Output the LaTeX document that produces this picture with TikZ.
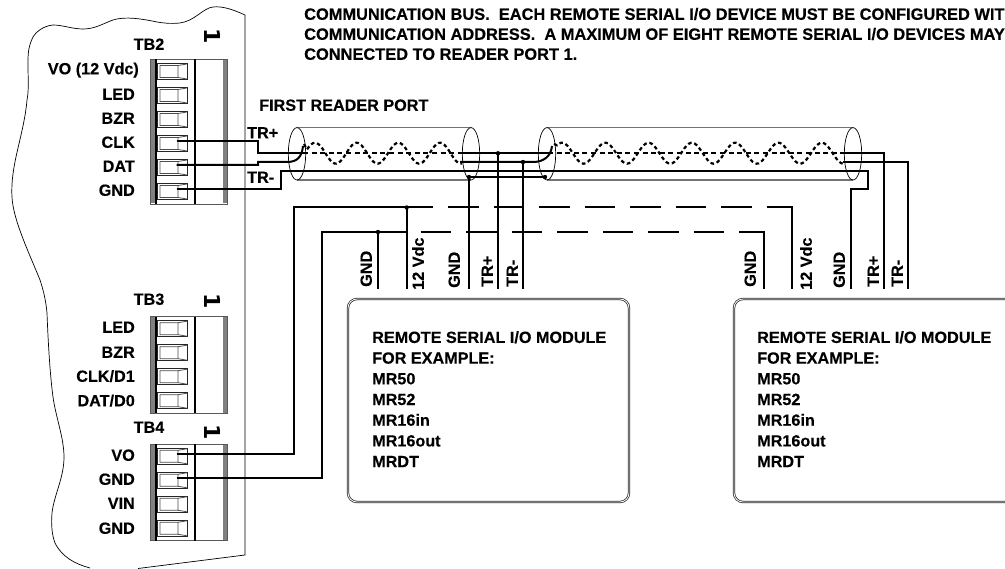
\documentclass[tikz,border=0pt]{standalone}
\usepackage{fontspec}
\setmainfont[BoldFeatures={FakeBold=0.35}]{Liberation Sans}
\newfontfamily\onefont{DejaVu Sans}
\begin{document}
\begin{tikzpicture}[x=1pt,y=-1pt,
 basefont/.style={font=\bfseries\fontsize{16.2}{20.7}\selectfont,inner sep=0pt},
 lab/.style={basefont,text height=11.6pt,text depth=0pt},
 plab/.style={lab,anchor=east},
 vlab/.style={lab,rotate=90,anchor=west},
 tlab/.style={lab,anchor=west},
 toplab/.style={tlab,font=\bfseries\fontsize{16.4}{20.7}\selectfont},
 onelab/.style={font=\onefont\bfseries\fontsize{22}{24}\selectfont,inner sep=0pt,rotate=-90},
 modtext/.style={basefont,align=left,anchor=north west},
 wire/.style={line width=2pt,line join=miter},
 dashA/.style={wire,dash pattern=on 30.5pt off 15pt},
 outline/.style={line width=0.7pt},
 shell/.style={line width=1.2pt,draw=black!55},
 twist/.style={line width=2.2pt,dash pattern=on 3.6pt off 2.8pt},
 straightdash/.style={line width=2.1pt,dash pattern=on 5pt off 3.6pt},
 mbox/.style={line width=0.75pt,draw=black!85,double,double distance=0.8pt,rounded corners=9pt}]
\useasboundingbox (0,0) rectangle (1005,569);
% board outline
\draw[outline] (245,15) .. controls (232,9) and (222,6) .. (213,7) .. controls (203,8) and (195,21) .. (180,23) .. controls (170,24) and (163,23) .. (157,22) .. controls (143,19) and (125,16) .. (113,20) .. controls (102,24) and (95,29) .. (83,29) .. controls (72,29) and (63,25) .. (53,25) .. controls (43,26) and (36,32) .. (33,37) .. controls (28,47) and (28,55) .. (28,63) .. controls (28,80) and (29,90) .. (27,100) .. controls (24,135) and (10,165) .. (12,197) .. controls (13,220) and (30,255) .. (40,280) .. controls (44,292) and (46,302) .. (47,313) .. controls (48,340) and (50,375) .. (53,397) .. controls (56,418) and (64,438) .. (64,457) .. controls (64,478) and (54,495) .. (52,513) .. controls (51,525) and (52,535) .. (55,543) .. controls (62,557) and (75,564) .. (90,568);
\draw[outline] (138,568.5) -- (245,555) -- (245,15);
% terminal blocks
\newcommand{\tblock}[2]{%
 \begin{scope}[shift={(0,#1)}]
  \pgfmathsetmacro{\hh}{24*#2+0.5}
  \draw[line width=0.9pt,draw=black!65] (150.5,0) rectangle (227,\hh);
  \fill[black!50] (151,0.5) rectangle (155,\hh-0.5);
  \fill[black!50] (223,0.5) rectangle (226.5,\hh-0.5);
  \draw[line width=1.2pt] (156,0)--(156,\hh) (195,0)--(195,\hh);
  \foreach \i in {1,...,#2}{
   \pgfmathsetmacro{\yy}{24*(\i-1)}
   \draw[line width=0.9pt,draw=black!85,fill=white] (157.7,\yy+4) rectangle (187.5,\yy+20);
   \draw[line width=0.8pt,draw=black!70] (160,\yy+6) rectangle (178,\yy+18) (178,\yy+6)--(187,\yy+4.5) (178,\yy+18)--(187,\yy+19.5);
  }
 \end{scope}}
\tblock{59.5}{6}
\tblock{316.7}{4}
\tblock{444.3}{4}
% labels
\node[lab] (ntb2) at (149,44) {TB2};
\node[lab] (ntb3) at (149,299) {TB3};
\node[lab] (ntb4) at (149,427) {TB4};
\node[onelab] (one1) at (213,36.5) {1};
\node[onelab] (one2) at (213,301) {1};
\node[onelab] (one3) at (213,432) {1};
\node[plab] (p1) at (139,68.5) {VO (12 Vdc)};
\node[plab] (p2) at (135,94) {LED};
\node[plab] (p3) at (135,118) {BZR};
\node[plab] (p4) at (135,142) {CLK};
\node[plab] (p5) at (135,166) {DAT};
\node[plab] (p6) at (135,190) {GND};
\node[plab] (q1) at (135,327) {LED};
\node[plab] (q2) at (135,352) {BZR};
\node[plab] (q3) at (135,376) {CLK/D1};
\node[plab] (q4) at (135,400.5) {DAT/D0};
\node[plab] (r1) at (135,455) {VO};
\node[plab] (r2) at (135,479) {GND};
\node[plab] (r3) at (135,503) {VIN};
\node[plab] (r4) at (135,528) {GND};
\node[tlab] (hdr) at (259,105) {FIRST READER PORT};
\node[tlab] (trp) at (247,132.5) {TR+};
\node[tlab] (trm) at (247,177) {TR-};
\node[toplab] (n1) at (304,14) {COMMUNICATION BUS.\ \ EACH REMOTE SERIAL I/O DEVICE MUST BE CONFIGURED WITH};
\node[toplab] (n2) at (304,34) {COMMUNICATION ADDRESS.\ \ A MAXIMUM OF EIGHT REMOTE SERIAL I/O DEVICES MAY};
\node[toplab] (n3) at (304,54) {CONNECTED TO READER PORT 1.};
\node[vlab] (v1) at (366,287) {GND};
\node[vlab] (v2) at (418,290) {12 Vdc};
\node[vlab] (v3) at (454,288) {GND};
\node[vlab] (v4) at (487,287) {TR+};
\node[vlab] (v5) at (512,287) {TR-};
\node[vlab] (v6) at (750,287) {GND};
\node[vlab] (v7) at (806,290) {12 Vdc};
\node[vlab] (v8) at (839,288) {GND};
\node[vlab] (v9) at (873,287) {TR+};
\node[vlab] (v10) at (897,287) {TR-};
% module boxes
\draw[mbox] (348,299) rectangle (629,502);
\draw[mbox] (734,299) rectangle (1020,502);
\node[modtext] (m1) at (372,331) {REMOTE SERIAL I/O MODULE\\FOR EXAMPLE:\\MR50\\MR52\\MR16in\\MR16out\\MRDT};
\node[modtext] (m2) at (757,331) {REMOTE SERIAL I/O MODULE\\FOR EXAMPLE:\\MR50\\MR52\\MR16in\\MR16out\\MRDT};
% cable shells
\draw[shell] (297,127.7) -- (471,127.7) (297,180) -- (471,180);
\draw[shell] (547,127.7) -- (853,127.7) (547,180) -- (853,180);
% named points
\coordinate (clk) at (176.5,141);
\coordinate (dat) at (176.5,165);
\coordinate (gnd) at (176.5,189);
\coordinate (vo) at (176.5,454);
\coordinate (gndb) at (176.5,478);
\coordinate (a1) at (460,153.3);
\coordinate (a2) at (845,153.3);
\coordinate (j1) at (498,153.3);
\coordinate (j2) at (523,162);
\coordinate (j3) at (469,177);
\coordinate (j4) at (545,177);
\coordinate (j5) at (406.7,207.5);
\coordinate (j6) at (378,232);
\coordinate (b1) at (498,289);
\coordinate (b2) at (523,289);
\coordinate (b3) at (469,289);
\coordinate (b4) at (406.7,289);
\coordinate (b5) at (378,289);
\coordinate (b6) at (764,289);
\coordinate (b7) at (792,289);
\coordinate (b8) at (851,289);
\coordinate (b9) at (884,289);
\coordinate (b10) at (908,289);
% twisted pairs and straight dashed conductor
\draw[twist] (304,144) -- plot[domain=307:462,samples=80] (\x,{153.2-10.5*cos((\x-315)*8.633)});
\draw[twist] (554,144) -- plot[domain=557:843,samples=140] (\x,{153.2-10.5*cos((\x-562)*8.314)});
\draw[straightdash] (303,153.3) -- (a1);
\draw[straightdash] (548,153.3) -- (a2);
% conductors
\draw[wire] (clk) -- (258,141) -- (258,153.3) -- (303,153.3);
\draw[wire] (dat) -- (258,165) -- (258,162) -- (287,162) .. controls (298,162) and (302,156) .. (303,146);
\draw[wire] (gnd) -- (281,189) -- (281,171) -- (868,171) -- (868,189) -- (851,189) -- (b8);
\draw[wire] (a1) -- (548,153.3);
\draw[wire] (460,162) -- (533,162) .. controls (544,162) and (551,156) .. (552,146);
\draw[wire] (a2) -- (884,153.3) -- (b9);
\draw[wire] (843,162) -- (908,162) -- (b10);
\draw[wire] (j3) -- (j4);
\draw[wire] (j3) -- (b3);
\draw[wire] (j1) -- (b1);
\draw[wire] (j2) -- (b2);
% supply lines
\draw[wire] (vo) -- (293.5,454) -- (293.5,207.5) -- (433,207.5);
\draw[wire] (gndb) -- (322,478) -- (322,232) -- (406.7,232);
\draw[dashA] (448,207.5) -- (766.5,207.5);
\draw[wire] (766.5,207.5) -- (792,207.5) -- (b7);
\draw[dashA] (420.5,232) -- (739,232);
\draw[wire] (739,232) -- (764,232) -- (b6);
\draw[wire] (j5) -- (b4);
\draw[wire] (j6) -- (b5);
% junction dots
\foreach \p in {j1,j2,j3,j4,j5,j6}{\fill (\p) circle (2.2pt);}
% cable ends over the wires
\foreach \c in {297,471,547,853}{\draw[outline] (\c,153.8) ellipse (8.7 and 26.2);}
\end{tikzpicture}
\end{document}
